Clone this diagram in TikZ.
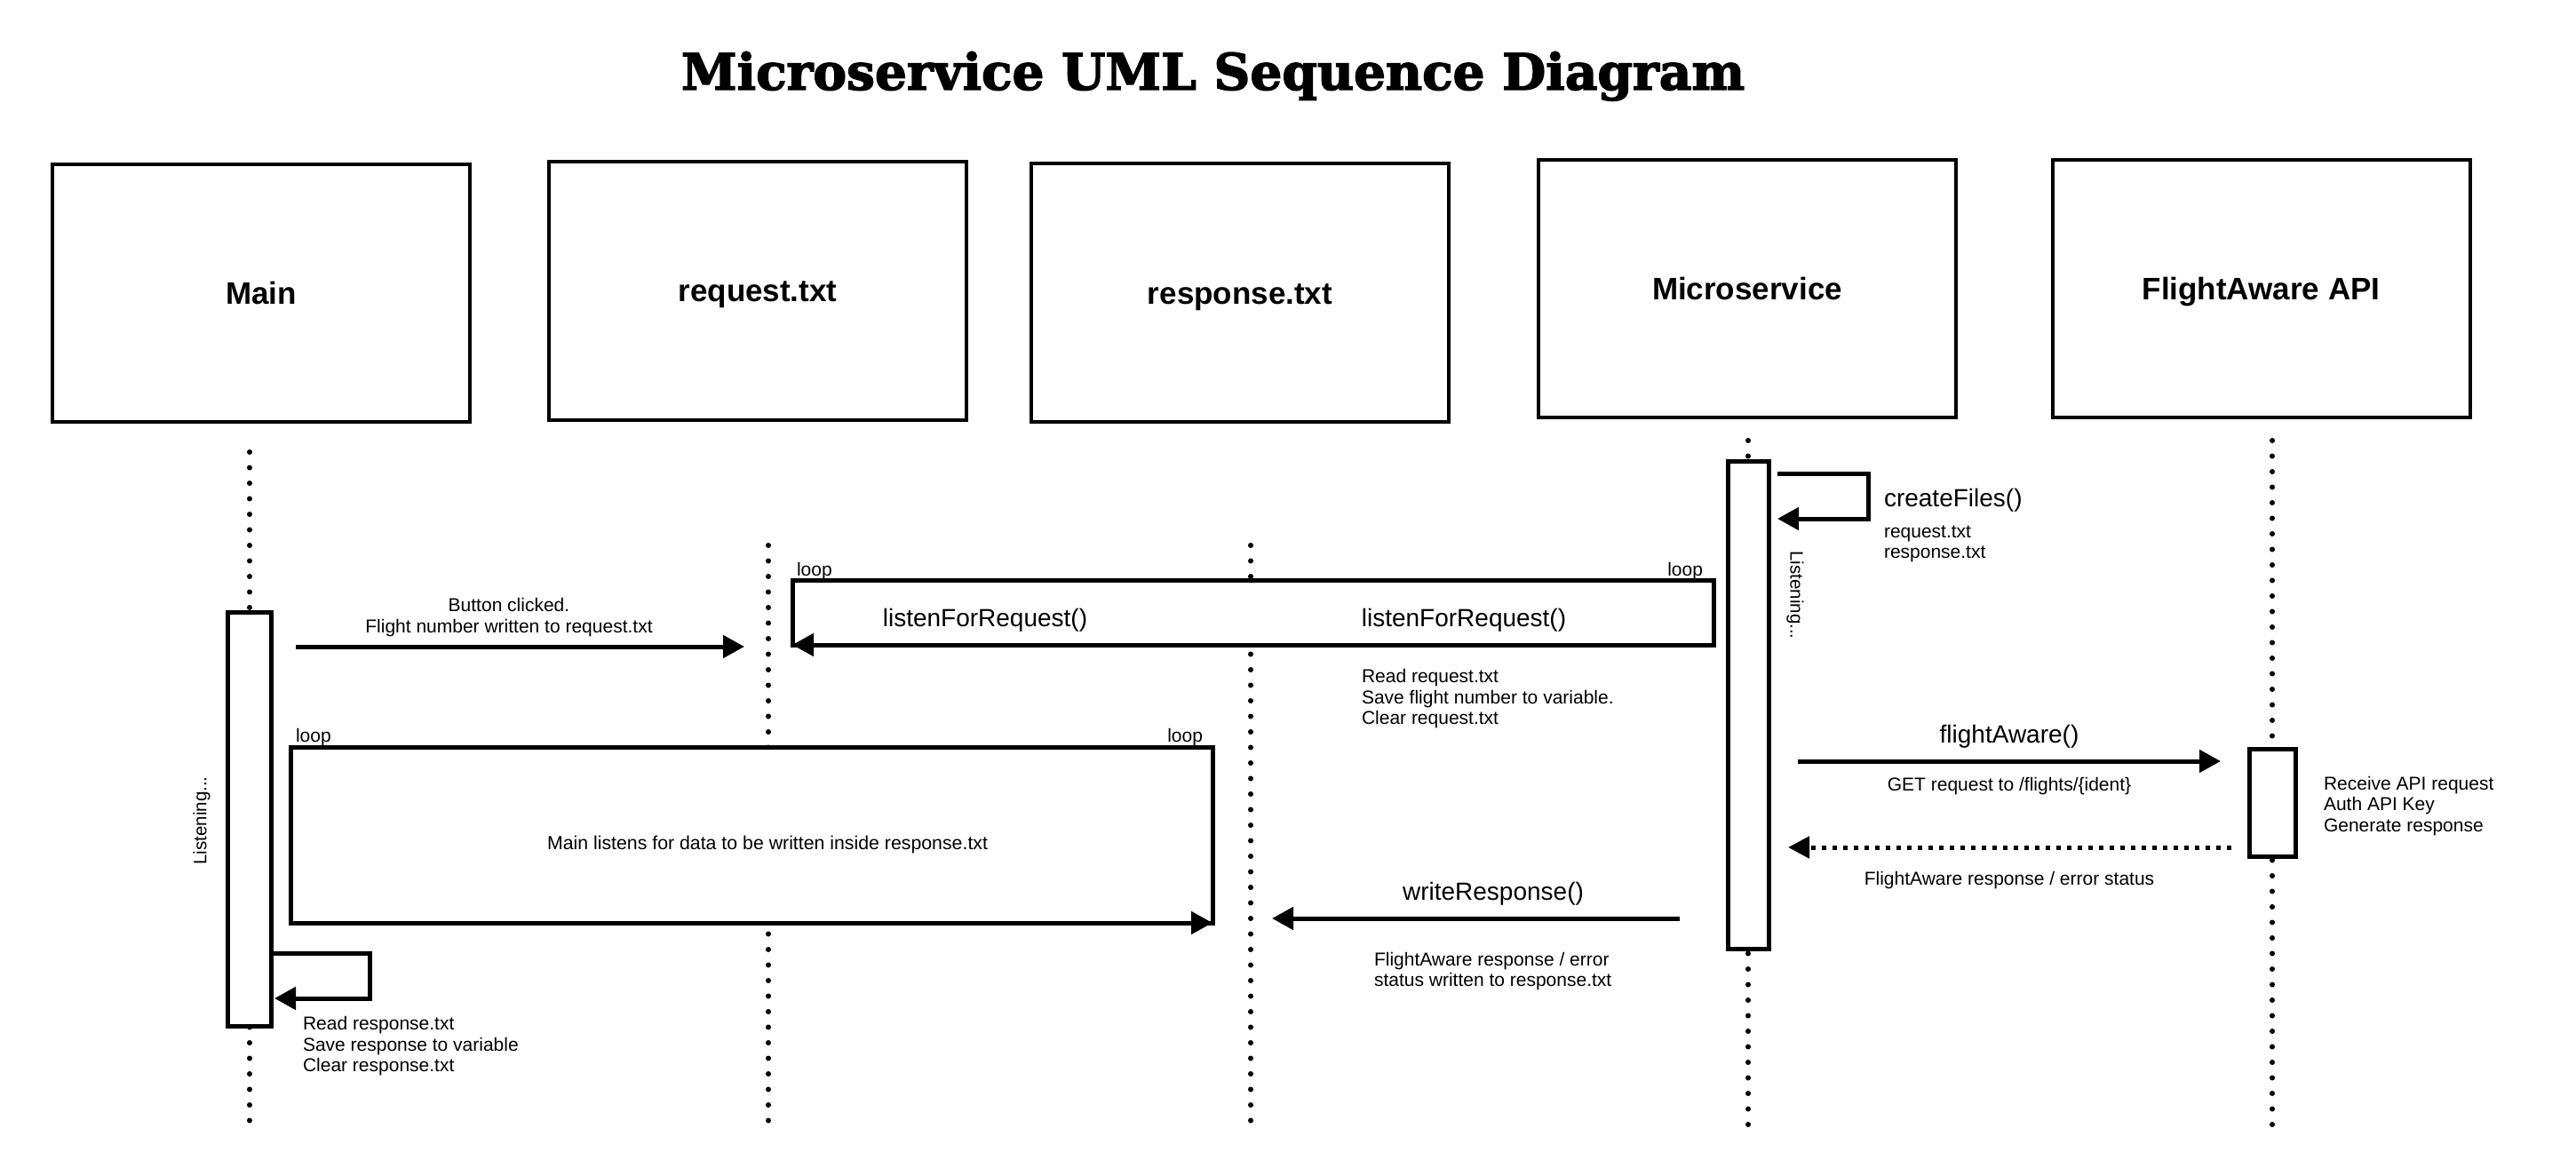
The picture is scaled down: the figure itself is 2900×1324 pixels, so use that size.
\documentclass[tikz,border=0pt]{standalone}
\usepackage{graphicx}
\usepackage{fontspec}
\setmainfont{Liberation Sans}
\newfontfamily\titlefont{DejaVu Serif}[BoldFeatures={FakeBold=2.5}]
\usetikzlibrary{arrows.meta}
\begin{document}
\begin{tikzpicture}[x=1pt,y=-1pt,
  every node/.style={inner sep=0pt, outer sep=0pt},
  participant/.style={draw, line width=4pt, minimum width=470pt, minimum height=290pt,
    font=\fontsize{35}{40}\selectfont\bfseries, text height=25pt, text depth=0pt},
  lifeline/.style={line width=6pt, dash pattern=on 0pt off 17.5pt, line cap=round},
  activation/.style={draw, fill=white, line width=5pt},
  loopframe/.style={draw, fill=white, line width=5pt},
  msg/.style={line width=5pt, -{Triangle[length=24pt,width=25pt]}},
  reply/.style={line width=5pt, dash pattern=on 5pt off 7pt, -{Triangle[length=24pt,width=24pt]}},
  small/.style={font=\fontsize{21}{23.5}\selectfont, align=left},
  medium/.style={font=\fontsize{28}{32}\selectfont},
  vert/.style={font=\fontsize{20.5}{24}\selectfont},
]
\useasboundingbox (0,0) rectangle (2900,1324);

% title
\node[anchor=base west] (title) at (767,101)
  {\resizebox{1197pt}{!}{\titlefont\bfseries Microservice UML Sequence Diagram}};

% participants
\node[participant] (pMain) at (294,330) {Main};
\node[participant] (pReq)  at (853,327.5) {request.txt};
\node[participant] (pResp) at (1396,329.5) {response.txt};
\node[participant] (pMS)   at (1967,325) {Microservice};
\node[participant] (pFA)   at (2545.5,325) {FlightAware API};

% lifelines
\coordinate (lMainT) at (281,509);   \coordinate (lMainB) at (281,1266);
\coordinate (lReqT)  at (865,614);   \coordinate (lReqB)  at (865,1268);
\coordinate (lRespT) at (1408,614);  \coordinate (lRespB) at (1408,1268);
\coordinate (lMST)   at (1968,496);  \coordinate (lMSB)   at (1968,1273);
\coordinate (lFAT)   at (2558,496);  \coordinate (lFAB)   at (2558,1273);
\draw[lifeline] (lMainT) -- (lMainB);
\draw[lifeline] (lReqT) -- (lReqB);
\draw[lifeline] (lRespT) -- (lRespB);
\draw[lifeline] (lMST) -- (lMSB);
\draw[lifeline] (lFAT) -- (lFAB);

% activation boxes
\node[activation, minimum width=49pt, minimum height=466pt] (actMain) at (281,922.5) {};
\node[activation, minimum width=46pt, minimum height=549pt] (actMS) at (1968.5,794) {};
\node[activation, minimum width=52pt, minimum height=121pt] (actFA) at (2558.5,904) {};

% loop frames
\node[loopframe, minimum width=1037pt, minimum height=73pt] (loopReq) at (1410.5,689.5) {};
\node[loopframe, minimum width=1038pt, minimum height=198pt] (loopMain) at (846,940) {};
\draw[msg] (loopReq.south east) -- (loopReq.south west);
\draw[msg] (loopMain.south west) -- (loopMain.south east);

\node[small, anchor=base west] (loopReqL) at (897,648) {loop};
\node[small, anchor=base east] (loopReqR) at (1917,648) {loop};
\node[small, anchor=base west] (loopMainL) at (333,835) {loop};
\node[small, anchor=base east] (loopMainR) at (1354,835) {loop};

\node[medium, anchor=base] (lfrL) at (1109,705) {listenForRequest()};
\node[medium, anchor=base] (lfrR) at (1648,705) {listenForRequest()};
\node[small, anchor=base west] (mainListens) at (616,956)
  {\fontsize{21.3}{24}\selectfont Main listens for data to be written inside response.txt};

% message 1: Main -> request.txt
\coordinate (m1s) at (333,728); \coordinate (m1e) at (838,728);
\draw[msg] (m1s) -- (m1e);
\node[small, align=center, anchor=north] (lblBtn) at (573,672.5)
  {\strut Button clicked.\\Flight number written to request.txt};

\node[small, anchor=north west] (lblReadReq) at (1533,752.5)
  {\strut Read request.txt\\Save flight number to variable.\\Clear request.txt};

% Main self message
\coordinate (smA) at (306,1073); \coordinate (smB) at (416,1073);
\coordinate (smC) at (416,1124); \coordinate (smD) at (309,1124);
\draw[msg] (smA) -- (smB) -- (smC) -- (smD);
\node[small, anchor=north west] (lblReadResp) at (341,1143.5)
  {\strut Read response.txt\\Save response to variable\\Clear response.txt};

\node[vert, rotate=90] (listenMain) at (227,924) {Listening...};

% Microservice self message
\coordinate (ssA) at (2001,533.6); \coordinate (ssB) at (2103,533.6);
\coordinate (ssC) at (2103,584); \coordinate (ssD) at (2001,584);
\draw[msg] (ssA) -- (ssB) -- (ssC) -- (ssD);
\node[medium, anchor=base west] (lblCreate) at (2121,570) {createFiles()};
\node[small, anchor=north west] (lblFiles) at (2121,589) {\strut request.txt\\response.txt};

\node[vert, rotate=-90] (listenMS) at (2021,670) {Listening...};

% flightAware call
\coordinate (faS) at (2024,857); \coordinate (faE) at (2500,857);
\draw[msg] (faS) -- (faE);
\node[medium, anchor=base] (lblFA) at (2262,836) {flightAware()};
\node[small, anchor=base] (lblGET) at (2262,890.5) {GET request to /flights/\{ident\}};
\node[small, anchor=north west] (lblFAproc) at (2616,873)
  {\strut Receive API request\\Auth API Key\\Generate response};

% reply
\coordinate (frS) at (2512,954); \coordinate (frE) at (2013,954);
\draw[reply] (frS) -- (frE);
\node[small, anchor=base] (lblFAresp) at (2262,996.5) {FlightAware response / error status};

% writeResponse
\coordinate (wrS) at (1891,1034); \coordinate (wrE) at (1432,1034);
\draw[msg] (wrS) -- (wrE);
\node[medium, anchor=base] (lblWrite) at (1681,1013) {writeResponse()};
\node[small, anchor=north west] (lblWriteTxt) at (1547,1071)
  {\strut FlightAware response / error\\status written to response.txt};
\end{tikzpicture}
\end{document}
